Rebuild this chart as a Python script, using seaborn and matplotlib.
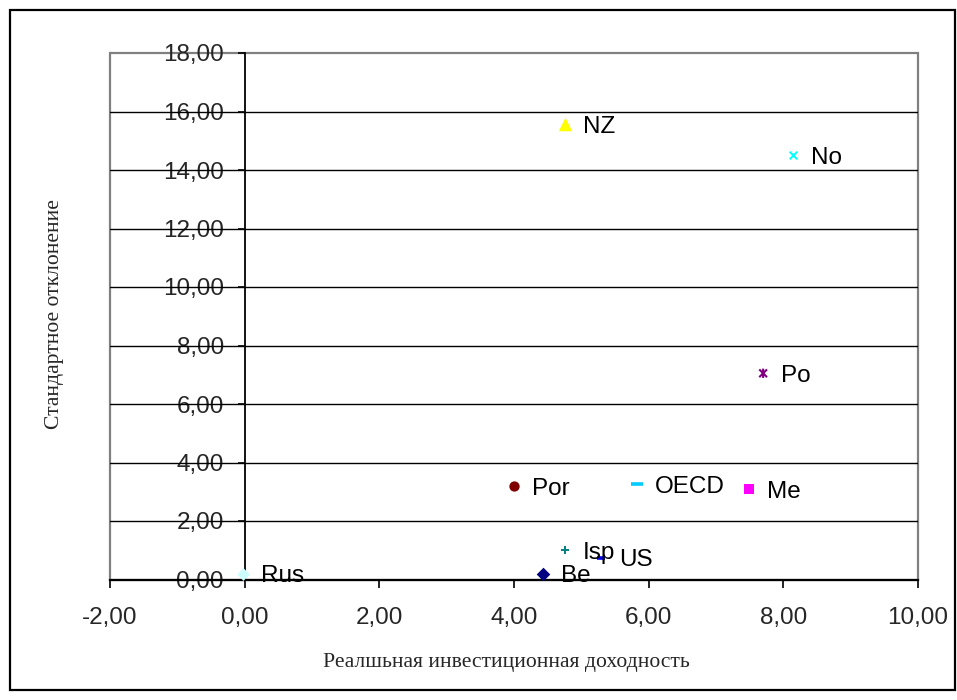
import matplotlib
matplotlib.use("Agg")
import matplotlib.pyplot as plt
import seaborn as sns
import pandas as pd
from matplotlib.path import Path
from matplotlib.patches import Rectangle

# Real investment return vs. standard deviation by country
countries = ["Rus", "Be", "Isp", "US", "Por", "OECD", "Me", "NZ", "No", "Po"]
real_return = [-0.03, 4.43, 4.76, 5.29, 4.00, 5.83, 7.49, 4.76, 8.15, 7.70]
std_dev = [0.20, 0.20, 1.00, 0.75, 3.18, 3.25, 3.08, 15.58, 14.52, 7.05]

x_ticks = [-2, 0, 2, 4, 6, 8, 10]
y_ticks = [0, 2, 4, 6, 8, 10, 12, 14, 16, 18]

x_title = "Реалшьная инвестиционная доходность"
y_title = "Стандартное отклонение"

# Excel-like star marker: an "x" crossed by a vertical stroke
star = Path([(-1, -1), (1, 1), (-1, 1), (1, -1), (0, -1.2), (0, 1.2)],
            [Path.MOVETO, Path.LINETO, Path.MOVETO, Path.LINETO, Path.MOVETO, Path.LINETO])

styles = {
    "Rus":  dict(marker="D", color="#CCFFFF", s=42, filled=True),
    "Be":   dict(marker="D", color="#000080", s=48, filled=True),
    "Isp":  dict(marker="+", color="#008080", s=40, lw=1.4),
    "US":   dict(marker="_", color="#0000FF", s=28, lw=2.6),
    "Por":  dict(marker="o", color="#800000", s=55, filled=True),
    "OECD": dict(marker="_", color="#00CCFF", s=80, lw=2.6),
    "Me":   dict(marker="s", color="#FF00FF", s=45, filled=True),
    "NZ":   dict(marker="^", color="#FFFF00", s=95, filled=True),
    "No":   dict(marker="x", color="#00FFFF", s=30, lw=1.4),
    "Po":   dict(marker=star, color="#800080", s=45, lw=1.5, path=True),
}

df = pd.DataFrame({"country": countries, "ret": real_return, "sd": std_dev})

sns.set_style("white")
plt.rcParams["font.family"] = ["Liberation Sans", "DejaVu Sans"]

fig = plt.figure(figsize=(9.57, 7.0), dpi=100)
ax = fig.add_axes([110 / 957, 1 - 579.5 / 700, (918 - 110) / 957, (579.5 - 53) / 700])

ax.set_xlim(-2, 10)
ax.set_ylim(0, 18)

# horizontal gridlines
for yv in y_ticks[1:-1]:
    ax.axhline(yv, color="black", lw=1.0, zorder=1)

# grey plot-area frame
ax.add_patch(Rectangle((0, 0), 1, 1, transform=ax.transAxes, fill=False,
                       edgecolor="#808080", lw=1.6, clip_on=False, zorder=0.5))

for name in countries:
    row = df[df["country"] == name]
    st = styles[name]
    kw = dict(data=row, x="ret", y="sd", ax=ax, marker=st["marker"], s=st["s"],
              color=st["color"], legend=False, zorder=5)
    if st.get("filled"):
        kw.update(edgecolor=st["color"], linewidth=0)
    elif st.get("path"):
        kw.update(edgecolor=st["color"], facecolor="none", linewidth=st["lw"])
    else:
        kw.update(linewidth=st["lw"])
    sns.scatterplot(**kw)
    ax.annotate(name, (row["ret"].iloc[0], row["sd"].iloc[0]), xytext=(13, -2),
                textcoords="offset points", ha="left", va="center",
                fontsize=17.5, color="black", zorder=6)

# axes: y axis crosses at x = 0, x axis along y = 0
for side in ["top", "right"]:
    ax.spines[side].set_visible(False)
ax.spines["left"].set_position(("data", 0))
ax.spines["left"].set_color("black")
ax.spines["left"].set_linewidth(1.3)
ax.spines["left"].set_zorder(3)
ax.spines["bottom"].set_color("black")
ax.spines["bottom"].set_linewidth(1.6)
ax.spines["bottom"].set_zorder(3)

ax.set_xticks(x_ticks)
ax.set_yticks(y_ticks)
ax.set_xticklabels([f"{v:.2f}".replace(".", ",") for v in x_ticks])
ax.set_yticklabels([f"{v:.2f}".replace(".", ",") for v in y_ticks])
ax.tick_params(axis="x", direction="out", length=6, width=1.2, color="black",
               pad=14, labelsize=17.5, bottom=True)
ax.tick_params(axis="y", direction="out", length=5, width=1.2, color="black",
               pad=10, labelsize=17.5, left=True)
ax.set_xlabel("")
ax.set_ylabel("")

fig.text(506 / 957, 1 - 662 / 700, x_title, ha="center", va="center",
         fontsize=15.6, family="Liberation Serif")
fig.text(55 / 957, 1 - 314 / 700, y_title, ha="center", va="center",
         rotation=90, fontsize=15.6, family="Liberation Serif")

# outer chart border
fig.patches.append(Rectangle((10 / 957, 1 - 690 / 700), (955 - 10) / 957,
                             680 / 700, transform=fig.transFigure, fill=False,
                             edgecolor="black", lw=1.6))

fig.savefig("out.png", dpi=100)
